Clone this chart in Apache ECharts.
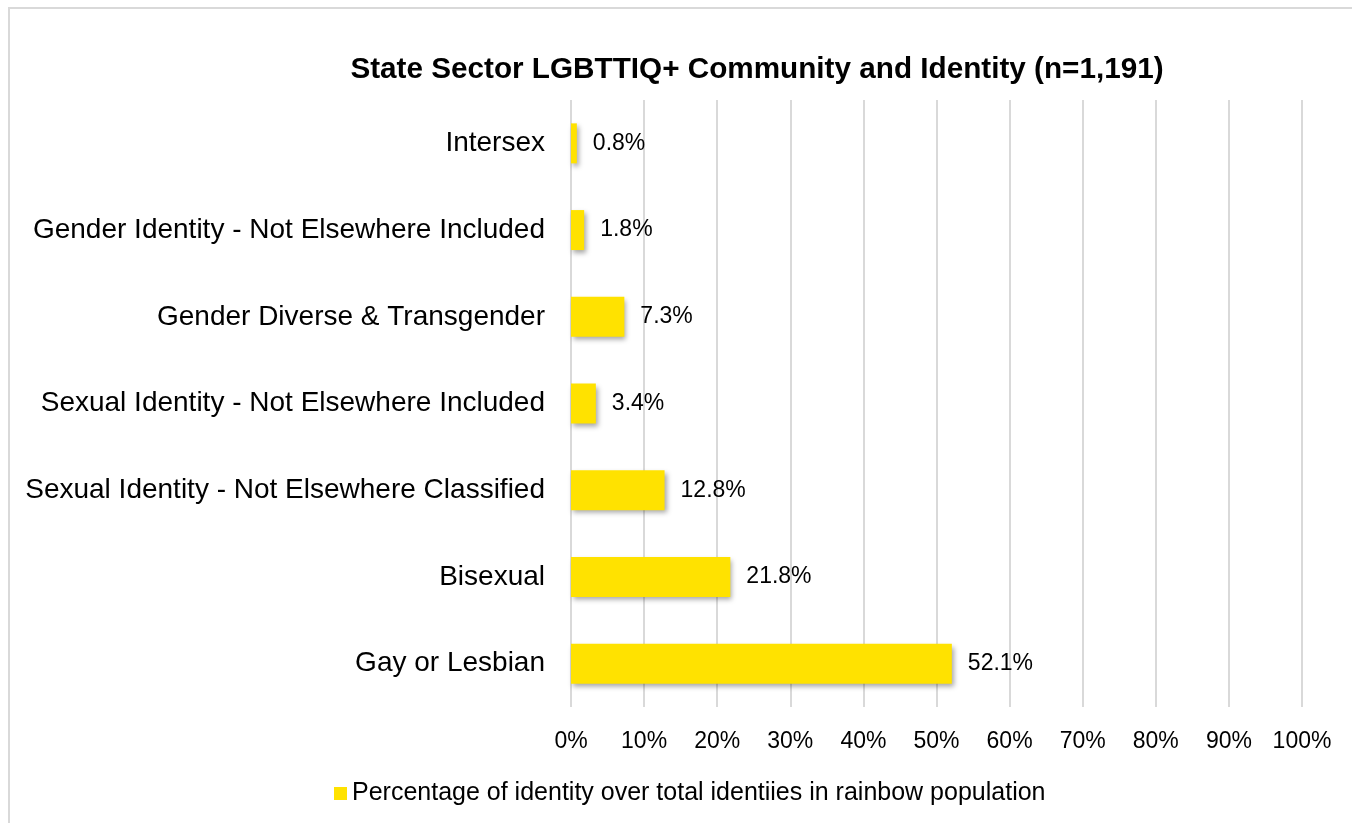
<!DOCTYPE html>
<html>
<head>
<meta charset="utf-8">
<script src="https://cdn.jsdelivr.net/npm/echarts@6/dist/echarts.min.js"></script>
<style>
  html, body { margin: 0; padding: 0; background: #fff; }
  #chart { width: 1352px; height: 823px; }
</style>
</head>
<body>
<div id="chart"></div>
<script>
// bottom to top, as the category axis draws them
const categories = [
  'Gay or Lesbian',
  'Bisexual',
  'Sexual Identity - Not Elsewhere Classified',
  'Sexual Identity - Not Elsewhere Included',
  'Gender Diverse & Transgender',
  'Gender Identity - Not Elsewhere Included',
  'Intersex'
]
const percentages = [52.1, 21.8, 12.8, 3.4, 7.3, 1.8, 0.8]
const seriesName = 'Percentage of identity over total identiies in rainbow population'
const titleText = 'State Sector LGBTTIQ+ Community and Identity (n=1,191)'

const font = '"Liberation Sans", Arial, Helvetica, sans-serif'
const chart = echarts.init(document.getElementById('chart'))

chart.setOption({
  animation: false,
  textStyle: { fontFamily: font },
  title: {
    text: titleText,
    left: 752,
    top: 50,
    textAlign: 'center',
    textStyle: { fontSize: 29.7, fontWeight: 'bold', color: '#000', fontFamily: font }
  },
  graphic: [{
    type: 'rect',
    shape: { x: 9, y: 8, width: 1360, height: 840 },
    style: { fill: 'none', stroke: '#d9d9d9', lineWidth: 2 },
    silent: true
  }],
  grid: {
    left: 571,
    right: 50,
    top: 100,
    bottom: 116
  },
  legend: {
    data: [seriesName],
    top: 776,
    left: 329,
    icon: 'rect',
    itemWidth: 13,
    itemHeight: 13,
    itemGap: 5,
    textStyle: { fontSize: 25, color: '#000', fontFamily: font }
  },
  xAxis: {
    type: 'value',
    min: 0,
    max: 100,
    interval: 10,
    axisLine: { show: false },
    axisTick: { show: false },
    axisLabel: {
      formatter: '{value}%',
      fontSize: 23,
      color: '#000',
      margin: 23
    },
    splitLine: { lineStyle: { color: '#d9d9d9', width: 2 } }
  },
  yAxis: {
    type: 'category',
    data: categories,
    axisLine: { show: false },
    axisTick: { show: false },
    axisLabel: { fontSize: 28, color: '#000', margin: 26 }
  },
  series: [{
    name: seriesName,
    type: 'bar',
    data: percentages,
    barWidth: 40,
    itemStyle: {
      color: '#ffe200',
      shadowColor: 'rgba(0,0,0,0.35)',
      shadowBlur: 5,
      shadowOffsetX: 2,
      shadowOffsetY: 3
    },
    label: {
      show: true,
      position: 'right',
      distance: 16,
      formatter: p => p.value.toFixed(1) + '%',
      fontSize: 23,
      color: '#000',
      fontFamily: font
    }
  }]
})
</script>
</body>
</html>
